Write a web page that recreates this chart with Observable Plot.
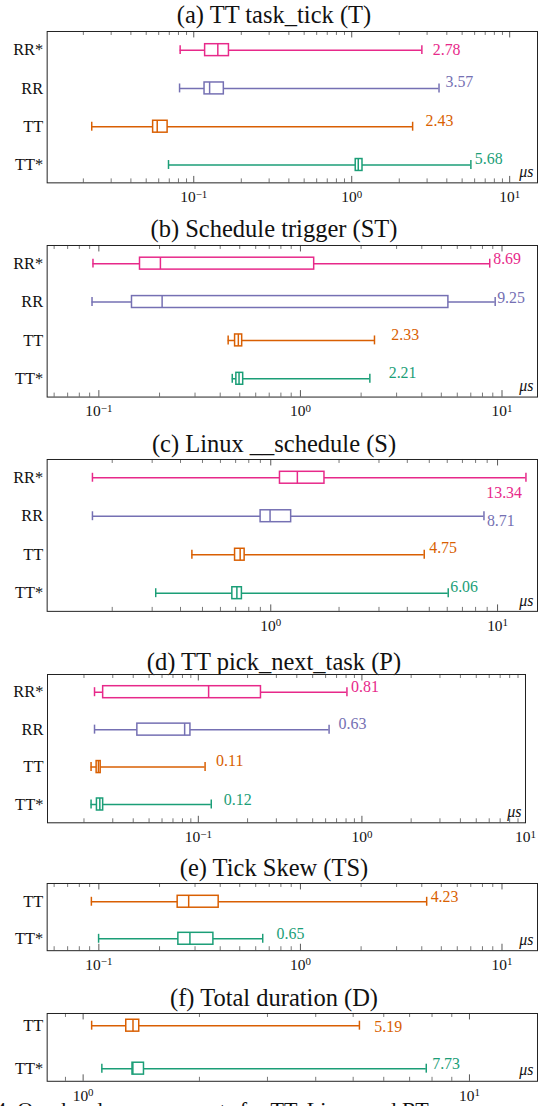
<!DOCTYPE html>
<html>
<head>
<meta charset="utf-8">
<script src="https://cdn.jsdelivr.net/npm/d3@7"></script>
<script src="https://cdn.jsdelivr.net/npm/@observablehq/plot@0.6"></script>
<style>
  html, body { margin: 0; padding: 0; background: #fff; overflow: hidden; width: 538px; height: 1106px; }
  #root { position: relative; width: 538px; height: 1106px; overflow: hidden; font-family: "Liberation Serif", "Times New Roman", serif; color: #111; }
  .title { position: absolute; left: 0; width: 548px; text-align: center; font-size: 24.5px; line-height: 28px; height: 28px; white-space: nowrap; }
  .panel { position: absolute; left: 0; }
  .panel svg { overflow: visible; }
  .panel svg text { font-family: "Liberation Serif", "Times New Roman", serif; }
  .caption { position: absolute; white-space: nowrap; font-size: 22px; line-height: 26px; }
</style>
</head>
<body>
<div id="root"></div>
<script>
// ---------------- data ----------------
const categories4 = ["RR*", "RR", "TT", "TT*"];
const seriesColors = ["#e7298a", "#7570b3", "#d95f02", "#1b9e77"];

const panelTitles = [
  "(a) TT task_tick (T)",
  "(b) Schedule trigger (ST)",
  "(c) Linux __schedule (S)",
  "(d) TT pick_next_task (P)",
  "(e) Tick Skew (TS)",
  "(f) Total duration (D)"
];

// rows: [category, min, q1, median, q3, max]   (values in microseconds)
const taskTick = [
  ["RR*", 0.082, 0.118, 0.142, 0.167, 2.78],
  ["RR", 0.0813, 0.117, 0.126, 0.155, 3.57],
  ["TT", 0.0226, 0.0553, 0.0587, 0.0683, 2.43],
  ["TT*", 0.0692, 1.06, 1.10, 1.17, 5.68]
];
const scheduleTrigger = [
  ["RR*", 0.0935, 0.16, 0.202, 1.17, 8.69],
  ["RR", 0.0925, 0.146, 0.206, 5.42, 9.25],
  ["TT", 0.438, 0.474, 0.492, 0.514, 2.33],
  ["TT*", 0.459, 0.481, 0.496, 0.52, 2.21]
];
const linuxSchedule = [
  ["RR*", 0.1636, 1.098, 1.31, 1.725, 13.34],
  ["RR", 0.1636, 0.902, 0.993, 1.23, 8.71],
  ["TT", 0.449, 0.696, 0.733, 0.767, 4.75],
  ["TT*", 0.311, 0.677, 0.709, 0.746, 6.06]
];
const pickNextTask = [
  ["RR*", 0.0232, 0.0262, 0.1156, 0.2415, 0.81],
  ["RR", 0.0232, 0.0424, 0.0825, 0.0895, 0.63],
  ["TT", 0.0221, 0.0239, 0.0245, 0.0253, 0.11],
  ["TT*", 0.0221, 0.0240, 0.0250, 0.0262, 0.12]
];
const tickSkew = [
  ["TT", 0.0918, 0.246, 0.279, 0.393, 4.23],
  ["TT*", 0.0997, 0.248, 0.283, 0.37, 0.65]
];
const totalDuration = [
  ["TT", 1.052, 1.293, 1.346, 1.397, 5.19],
  ["TT*", 1.118, 1.342, 1.345, 1.437, 7.73]
];
const unitLabel = "μs";
const captionText = "Fig. 4.  Overhead measurements for TT, Linux and RT";

// ---------------- layout (page pixels) ----------------
const panelLayout = [
  {rows: taskTick,        domain: [0.0118, 15], titleY: 15,    top: 30.5,  bottom: 183,   rowFirst: 49.3,  rowLast: 165,    right: 541},
  {rows: scheduleTrigger, domain: [0.0554, 15], titleY: 229.3, top: 245,   bottom: 397.7, rowFirst: 263.3, rowLast: 379.3,  right: 541},
  {rows: linuxSchedule,   domain: [0.1033, 15], titleY: 443.6, top: 459.3, bottom: 612.3, rowFirst: 477.7, rowLast: 594,    right: 541},
  {rows: pickNextTask,    domain: [0.01197, 10], titleY: 661.7, top: 674,  bottom: 822.3, rowFirst: 691.7, rowLast: 804,    right: 525},
  {rows: tickSkew,        domain: [0.0554, 15], titleY: 868.3, top: 883.3, bottom: 951,   rowFirst: 901.7, rowLast: 939,    right: 541},
  {rows: totalDuration,   domain: [0.807, 15],  titleY: 997.7, top: 1012.7, bottom: 1081, rowFirst: 1025,  rowLast: 1068.3, right: 541}
];
// value-label offsets [dx, dy, anchor] per row
const labelPlacement = [
  [[11, 0, "start"], [6.5, -6.6, "start"], [13, -6, "start"], [4, -5.7, "start"]],
  [[3.5, -5, "start"], [2, -4.6, "start"], [17, -6, "start"], [19, -6, "start"]],
  [[-4, 15, "end"], [3, 5, "start"], [5, -6.4, "start"], [2, -6.7, "start"]],
  [[4, -5, "start"], [9.5, -5.3, "start"], [11, -6.6, "start"], [12.5, -5, "start"]],
  [[4, -5, "start"], [14, -5, "start"]],
  [[15, 1.7, "start"], [6, -5, "start"]]
];

const root = document.getElementById("root");
const FONT = "Liberation Serif, Times New Roman, serif";

panelLayout.forEach((p, pi) => {
  // title
  const t = document.createElement("div");
  t.className = "title";
  t.textContent = panelTitles[pi];
  t.style.top = (p.titleY - 14) + "px";
  root.appendChild(t);

  const data = p.rows.map(r => ({cat: r[0], min: r[1], q1: r[2], med: r[3], q3: r[4], max: r[5], label: r[5].toFixed(2)}));
  const cats = data.map(d => d.cat);
  const mt = 1, mb = 32, ml = 47;
  const W = p.right + 1;
  const h = p.bottom - p.top;
  const H = h + mt + mb;
  const svgTop = p.top - mt;
  const n = cats.length;
  const step = (p.rowLast - p.rowFirst) / (n - 1);
  const yRange = [p.rowFirst - step / 2 - svgTop, p.rowLast + step / 2 - svgTop];
  const boxH = 12, capH = 9;
  const boxInset = (step - boxH) / 2, capInset = (step - capH) / 2;
  const [lo, hi] = p.domain;
  const majors = [], minors = [];
  for (let k = -3; k <= 2; k++) {
    for (let m = 1; m <= 9; m++) {
      const v = +(m * Math.pow(10, k)).toPrecision(6);
      if (v >= lo && v <= hi) (m === 1 ? majors : minors).push(v);
    }
  }
  const labelMarks = data.map((d, i) => {
    const [dx, dy, anchor] = labelPlacement[pi][i];
    return Plot.text([d], {x: "max", y: "cat", text: "label", fill: "cat", dx, dy, textAnchor: anchor, lineAnchor: "middle", fontSize: 16, fontFamily: FONT});
  });
  const sw = 1.5;
  const svg = Plot.plot({
    width: W,
    height: H,
    marginLeft: ml,
    marginRight: W - p.right,
    marginTop: mt,
    marginBottom: mb,
    style: {fontFamily: FONT, fontSize: "16px", background: "transparent", overflow: "visible", color: "#111"},
    x: {type: "log", domain: [lo, hi], range: [ml, p.right], label: null},
    y: {type: "band", domain: cats, range: yRange, padding: 0, round: false, label: null},
    color: {domain: categories4, range: seriesColors},
    marks: [
      Plot.ruleX(minors, {x: d => d, insetTop: h - 4, stroke: "#555", strokeWidth: 0.8}),
      Plot.ruleX(minors, {x: d => d, insetBottom: h - 4, stroke: "#555", strokeWidth: 0.8}),
      Plot.ruleX(majors, {x: d => d, insetTop: h - 6.5, stroke: "#444", strokeWidth: 0.9}),
      Plot.ruleX(majors, {x: d => d, insetBottom: h - 6.5, stroke: "#444", strokeWidth: 0.9}),
      Plot.ruleY(data, {y: "cat", x1: "min", x2: "max", stroke: "cat", strokeWidth: sw}),
      Plot.barX(data, {y: "cat", x1: "q1", x2: "q3", fill: "white", stroke: "cat", strokeWidth: sw, insetTop: boxInset, insetBottom: boxInset}),
      Plot.tickX(data, {y: "cat", x: "med", stroke: "cat", strokeWidth: sw, insetTop: boxInset, insetBottom: boxInset}),
      Plot.tickX(data, {y: "cat", x: "min", stroke: "cat", strokeWidth: sw, insetTop: capInset, insetBottom: capInset}),
      Plot.tickX(data, {y: "cat", x: "max", stroke: "cat", strokeWidth: sw, insetTop: capInset, insetBottom: capInset}),
      ...labelMarks,
      Plot.text([unitLabel], {text: d => d, frameAnchor: "bottom-right", dx: -4, dy: -11, textAnchor: "end", lineAnchor: "middle", fontStyle: "italic", fontSize: 16, fontFamily: FONT, fill: "#111"}),
      Plot.frame({stroke: "#222", strokeWidth: 1}),
      Plot.axisY({tickSize: 0, tickPadding: 4, fontSize: 16.5, fontFamily: FONT, fill: "#111", label: null}),
      Plot.axisX({ticks: majors, tickSize: 0, tickPadding: 8.5, fontSize: 15.5, fontFamily: FONT, fill: "#111", label: null,
                  tickFormat: d => "10^" + Math.round(Math.log10(d))})
    ]
  });
  // superscript exponents on tick labels
  svg.querySelectorAll('g[aria-label="x-axis tick label"] text').forEach(el => {
    const m = /^10\^(-?\d+)$/.exec(el.textContent.trim());
    if (!m) return;
    el.textContent = "10";
    const ts = document.createElementNS("http://www.w3.org/2000/svg", "tspan");
    ts.setAttribute("dy", "-0.42em");
    ts.setAttribute("font-size", "11px");
    ts.textContent = m[1].replace("-", "\u2212");
    el.appendChild(ts);
  });
  const wrap = document.createElement("div");
  wrap.className = "panel";
  wrap.style.top = svgTop + "px";
  wrap.appendChild(svg);
  root.appendChild(wrap);
});

const cap = document.createElement("div");
cap.className = "caption";
cap.textContent = captionText;
cap.style.left = "-45px";
cap.style.top = "1097px";
root.appendChild(cap);
</script>
</body>
</html>
